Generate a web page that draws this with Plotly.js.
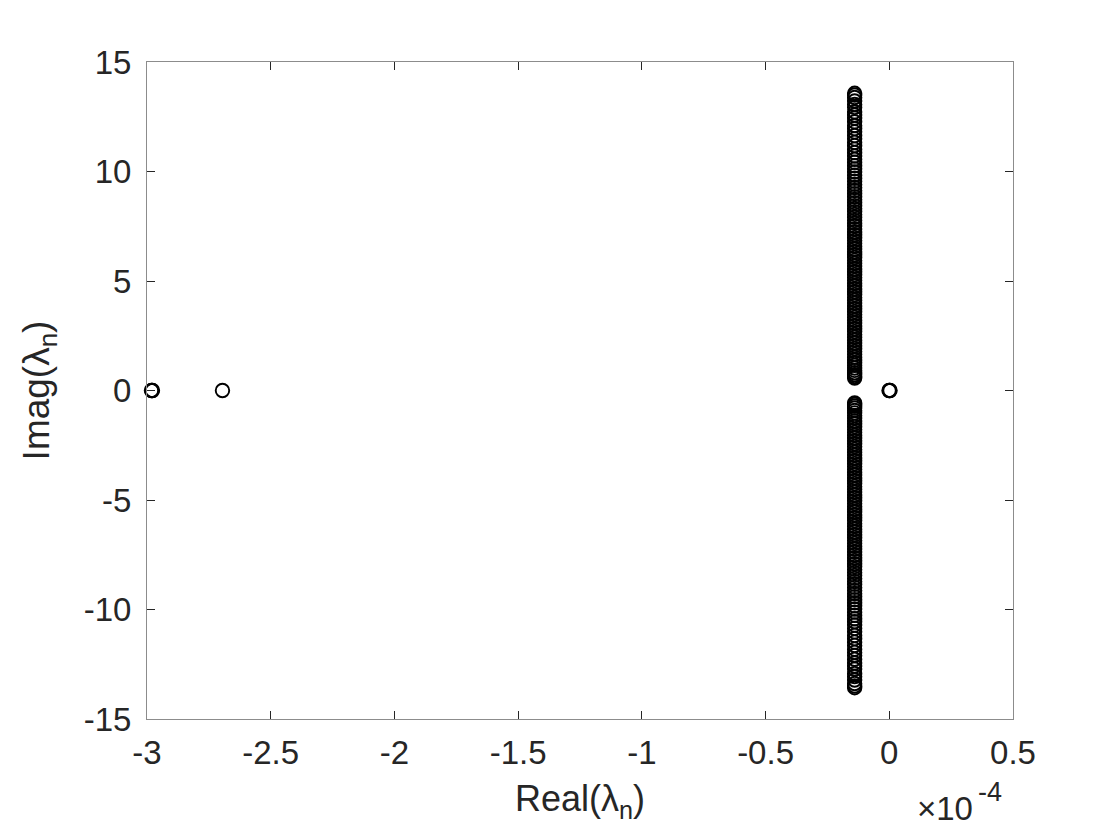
<!DOCTYPE html>
<html>
<head>
<meta charset="utf-8">
<script src="https://cdn.plot.ly/plotly-3.0.1.min.js"></script>
<style>html,body{margin:0;padding:0;background:#fff;}#chart{width:1120px;height:840px;}</style>
</head>
<body>
<div id="chart"></div>
<script>
// Eigenvalue column: common real part, imaginary parts (upper and lower halves)
const columnReal = -1.4e-5;
const columnImagUpper = [13.57, 13.49, 13.38, 13.22, 13.06, 12.93, 12.72, 12.58, 12.44, 12.27,
  12.10, 11.96, 11.81, 11.64, 11.49, 11.33, 11.18, 11.02, 10.86, 10.71,
  10.56, 10.42, 10.26, 10.12, 9.98, 9.83, 9.69, 9.55, 9.41, 9.27,
  9.13, 8.99, 8.85, 8.72, 8.58, 8.44, 8.31, 8.17, 8.04, 7.91,
  7.77, 7.64, 7.51, 7.37, 7.24, 7.11, 6.98, 6.85, 6.72, 6.59,
  6.46, 6.33, 6.20, 6.07, 5.94, 5.81, 5.68, 5.55, 5.42, 5.29,
  5.16, 5.03, 4.90, 4.77, 4.64, 4.51, 4.38, 4.25, 4.12, 3.99,
  3.86, 3.73, 3.60, 3.47, 3.34, 3.21, 3.08, 2.95, 2.82, 2.69,
  2.56, 2.43, 2.30, 2.17, 2.04, 1.91, 1.78, 1.65, 1.52, 1.39,
  1.27, 1.15, 1.03, 0.92, 0.81, 0.72, 0.64, 0.57];
const columnImagLower = [-0.57, -0.63, -0.71, -0.80, -0.91, -1.02, -1.14, -1.26, -1.39, -1.52,
  -1.65, -1.78, -1.91, -2.04, -2.17, -2.30, -2.43, -2.56, -2.69, -2.82,
  -2.95, -3.08, -3.21, -3.34, -3.47, -3.60, -3.73, -3.86, -3.99, -4.12,
  -4.25, -4.38, -4.51, -4.64, -4.77, -4.90, -5.03, -5.16, -5.29, -5.42,
  -5.55, -5.68, -5.81, -5.94, -6.07, -6.20, -6.33, -6.46, -6.59, -6.72,
  -6.85, -6.98, -7.11, -7.24, -7.37, -7.51, -7.64, -7.77, -7.91, -8.04,
  -8.17, -8.31, -8.44, -8.58, -8.72, -8.85, -8.99, -9.13, -9.27, -9.41,
  -9.55, -9.69, -9.83, -9.98, -10.12, -10.26, -10.42, -10.56, -10.71, -10.86,
  -11.02, -11.18, -11.33, -11.49, -11.64, -11.81, -11.96, -12.10, -12.27, -12.44,
  -12.58, -12.72, -12.93, -13.06, -13.22, -13.38, -13.49, -13.57];
// Isolated real eigenvalues
const isolatedReal = [-2.982e-4, -2.980e-4, -2.978e-4, -2.695e-4, -0.001e-4, 0.001e-4, 0.003e-4];
const isolatedImag = [0, 0, 0, 0, 0, 0, 0];
// Axis ticks
const xTickVals = [-3e-4, -2.5e-4, -2e-4, -1.5e-4, -1e-4, -0.5e-4, 0, 0.5e-4];
const xTickText = ['-3', '-2.5', '-2', '-1.5', '-1', '-0.5', '0', '0.5'];
const yTickVals = [-15, -10, -5, 0, 5, 10, 15];
const yTickText = ['-15', '-10', '-5', '0', '5', '10', '15'];
const xExponentBase = '×10';
const xExponent = '-4';

const colImag = columnImagUpper.concat(columnImagLower);
const allX = colImag.map(() => columnReal).concat(isolatedReal);
const allY = colImag.concat(isolatedImag);

const txt = '#262626';
const fontFam = 'Liberation Sans, Arial, Helvetica, sans-serif';

const trace = {
  x: allX, y: allY, type: 'scatter', mode: 'markers', cliponaxis: false,
  marker: {symbol: 'circle-open', size: 13.5, color: '#000', line: {width: 1.9, color: '#000'}},
  hoverinfo: 'x+y', showlegend: false
};

const axisCommon = {
  showgrid: false, zeroline: false, showline: true, mirror: 'ticks',
  linecolor: '#8c8c8c', linewidth: 1, ticks: 'inside', ticklen: 8, tickwidth: 1,
  tickcolor: '#262626', tickfont: {family: fontFam, size: 33, color: txt},
  tickmode: 'array'
};

const layout = {
  width: 1120, height: 840,
  paper_bgcolor: '#fff', plot_bgcolor: '#fff',
  margin: {l: 147, r: 107, t: 62, b: 121},
  font: {family: fontFam, color: txt},
  xaxis: Object.assign({}, axisCommon, {
    range: [-3e-4, 0.5e-4], tickvals: xTickVals, ticktext: xTickText,
    ticklabelstandoff: 4,
    title: {text: 'Real(λ<sub>n</sub>)', font: {family: fontFam, size: 36, color: txt}, standoff: 16}
  }),
  yaxis: Object.assign({}, axisCommon, {
    range: [-15, 15], tickvals: yTickVals, ticktext: yTickText,
    ticklabelstandoff: 8,
    title: {text: 'Imag(λ<sub>n</sub>)', font: {family: fontFam, size: 37, color: txt}, standoff: 22}
  }),
  annotations: [{
    xref: 'paper', yref: 'paper', x: 1.0, y: 0, xanchor: 'right', yanchor: 'middle',
    xshift: -38, yshift: -89,
    text: xExponentBase, showarrow: false,
    font: {family: fontFam, size: 33, color: txt}
  }, {
    xref: 'paper', yref: 'paper', x: 1.0, y: 0, xanchor: 'left', yanchor: 'middle',
    xshift: -37, yshift: -73,
    text: xExponent, showarrow: false,
    font: {family: fontFam, size: 27, color: txt}
  }]
};

Plotly.newPlot('chart', [trace], layout, {displayModeBar: false, staticPlot: true});
</script>
</body>
</html>
